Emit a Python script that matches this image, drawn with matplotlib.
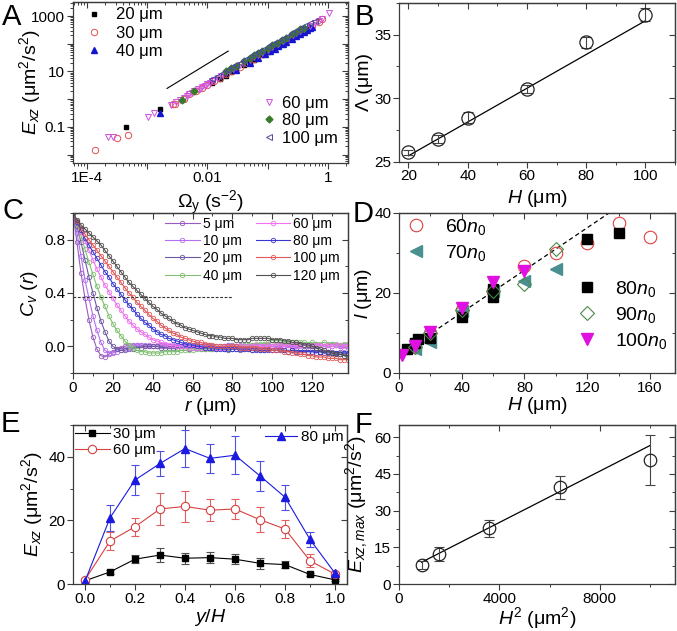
import numpy as np
import matplotlib
matplotlib.use('Agg')
import matplotlib.pyplot as plt
from matplotlib.ticker import MultipleLocator, LogLocator, FuncFormatter, NullFormatter

plt.rcParams['font.family'] = ['Liberation Sans', 'DejaVu Sans']
plt.rcParams['mathtext.fontset'] = 'custom'
plt.rcParams['mathtext.rm'] = 'Liberation Sans'
plt.rcParams['mathtext.it'] = 'Liberation Sans:italic'
plt.rcParams['mathtext.bf'] = 'Liberation Sans:bold'
plt.rcParams['axes.linewidth'] = 0.9
plt.rcParams['axes.edgecolor'] = '#3c3c3c'

# ---------------- panel A : E_xz vs Omega_y (log-log)
a20_x = [4.5e-4, 1.6e-3, 0.012, 0.016, 0.02, 0.025, 0.03, 0.04, 0.05, 0.06, 0.08, 0.1, 0.12, 0.16, 0.2, 0.25, 0.3, 0.4, 0.5]
a20_y = [0.1, 0.44, 3.7, 5.3, 7.0, 9.2, 11.5, 16.5, 21.7, 27, 39, 51, 64, 92, 121, 160, 200, 286, 400]
a30_x = [1.36e-4, 3.2e-4, 4.8e-4, 0.0027, 0.0029, 0.004, 0.005, 0.0065, 0.008, 0.01, 0.013, 0.016, 0.02, 0.026,
         0.035, 0.045, 0.06, 0.08, 0.1, 0.13, 0.17, 0.22, 0.28, 0.35, 0.45, 0.55, 0.7, 0.79]
a30_y = [0.0146, 0.040, 0.050, 0.65, 0.70, 1.0, 1.5, 1.9, 2.5, 3.3, 4.5, 5.6, 7.8, 10.5,
         15, 20, 29, 42, 55, 77, 108, 150, 205, 260, 350, 430, 600, 780]
a40_x = [0.0016, 0.03, 0.05, 0.07, 0.09, 0.11, 0.13, 0.15, 0.18, 0.2, 0.25, 0.3, 0.35, 0.4, 0.45, 0.5, 0.55]
a40_y = [0.32, 11, 20, 31, 42, 55, 65, 80, 100, 112, 150, 190, 228, 270, 310, 355, 400]
a60_x = [2.2e-4, 2.7e-4, 1.04e-3, 1.3e-3, 0.0025, 0.003, 0.0035, 0.004, 0.0045, 0.005, 0.0055, 0.006, 0.007,
         0.0075, 0.008, 0.009, 0.01, 0.011, 0.012, 0.013, 0.015, 0.017, 0.02, 0.023, 0.027, 0.03, 0.035,
         0.04, 0.05, 0.06, 0.07, 0.08, 0.1, 0.12, 0.15, 0.18, 0.22, 0.26, 0.3, 0.35, 0.4, 0.5, 0.6, 0.7,
         0.8, 1.04]
a60_y = [0.045, 0.043, 0.226, 0.316, 0.62, 0.8, 0.95, 1.15, 1.3, 1.5, 1.7, 1.9, 2.3,
         2.4, 2.7, 3.0, 3.6, 4.0, 4.5, 4.8, 5.9, 6.8, 8.5, 10, 12.5, 14, 17,
         20, 26, 33, 39, 47, 61, 77, 100, 128, 165, 200, 240, 290, 340, 450, 560, 650,
         800, 1290]
a80_x = [0.0038, 0.006, 0.02, 0.025, 0.03, 0.04, 0.05, 0.06, 0.07, 0.08, 0.1, 0.12, 0.14, 0.17, 0.2, 0.25, 0.3, 0.35, 0.4]
a80_y = [0.93, 1.95, 10, 13, 16, 23, 30, 38, 47, 55, 72, 90, 110, 140, 165, 225, 275, 330, 380]
a100_x = [0.012, 0.015, 0.018, 0.022, 0.026, 0.03, 0.035, 0.04, 0.05, 0.06, 0.07, 0.08, 0.1, 0.12, 0.14,
          0.17, 0.2, 0.25, 0.3, 0.35, 0.4, 0.5, 0.6]
a100_y = [5.2, 7, 9, 11.5, 14, 17, 21, 25, 33, 41, 50, 58, 76, 95, 115,
          145, 180, 235, 290, 350, 420, 540, 680]
a_guide_x = [0.00213, 0.0221]
a_guide_y = [2.45, 54.5]

# ---------------- panel B : Lambda vs H
b_H = [20, 30, 40, 60, 80, 100]
b_lam = [25.71, 26.76, 28.47, 30.71, 34.39, 36.58]
b_err = [0.2, 0.3, 0.46, 0.3, 0.45, 0.53]
b_fit = (0.1331, 22.79)   # slope, intercept

# ---------------- panel C : C_v(r)
c_r = np.arange(0, 140, 2)
c_labels = ['5 μm', '10 μm', '20 μm', '40 μm', '60 μm', '80 μm', '100 μm', '120 μm']
c_colors = ['#9a5cc0', '#b46ef0', '#6c5aa0', '#80c070', '#f070f0', '#3838d0', '#e05858', '#505050']
c5 = [1.00, 0.78, 0.55, 0.36, 0.20, 0.07, -0.02, -0.07, -0.08, -0.06, -0.04, -0.02, -0.01, 0.00, 0.01, 0.01, 0.01, 0.01, 0.00, 0.00, 0.00,
      0.00, 0.01, 0.00, -0.01, 0.00, 0.01, 0.00, 0.00, -0.01, 0.00, 0.01, 0.00, 0.00, 0.01, 0.00, -0.01, 0.00, 0.00, 0.01, 0.01,
      0.00, 0.00, -0.01, 0.00, 0.01, 0.00, 0.00, 0.01, 0.01, 0.00, 0.00, 0.01, 0.00, -0.01, 0.00, 0.01, 0.02, 0.01, 0.00, 0.01,
      0.02, 0.01, 0.00, 0.01, 0.02, 0.01, 0.00, 0.01, 0.02]
c10 = [1.00, 0.85, 0.68, 0.50, 0.36, 0.23, 0.12, 0.03, -0.03, -0.05, -0.05, -0.04, -0.03, -0.02, -0.01, 0.00, 0.01, 0.01, 0.01, 0.01, 0.00,
       0.00, 0.00, 0.01, 0.00, -0.01, 0.00, 0.00, 0.01, 0.00, 0.00, -0.01, 0.00, 0.01, 0.00, 0.00, 0.00, -0.01, 0.00, 0.01, 0.00,
       0.00, 0.01, 0.00, -0.01, -0.01, 0.00, 0.00, 0.01, 0.00, 0.00, -0.01, 0.00, 0.00, 0.01, 0.00, -0.01, 0.00, 0.01, 0.00, -0.01,
       0.00, 0.01, 0.00, -0.01, 0.00, 0.01, 0.00, -0.01, 0.00]
c20 = [1.00, 0.90, 0.78, 0.65, 0.52, 0.40, 0.29, 0.19, 0.11, 0.04, 0.00, -0.02, -0.03, -0.03, -0.02, -0.02, -0.01, -0.01, 0.00, 0.00, 0.00,
       0.00, -0.01, -0.01, 0.00, -0.01, -0.02, -0.01, -0.01, -0.02, -0.01, -0.01, -0.02, -0.02, -0.01, -0.02, -0.02, -0.01, -0.02, -0.03, -0.02,
       -0.02, -0.03, -0.02, -0.02, -0.03, -0.02, -0.03, -0.03, -0.02, -0.03, -0.03, -0.02, -0.03, -0.04, -0.03, -0.03, -0.04, -0.03, -0.04, -0.04,
       -0.03, -0.04, -0.05, -0.04, -0.04, -0.05, -0.04, -0.05, -0.05]
c40 = [1.00, 0.92, 0.83, 0.73, 0.63, 0.54, 0.45, 0.37, 0.30, 0.23, 0.17, 0.12, 0.08, 0.04, 0.01, -0.01, -0.03, -0.04, -0.04, -0.05, -0.05,
       -0.05, -0.05, -0.04, -0.04, -0.04, -0.04, -0.03, -0.03, -0.03, -0.03, -0.02, -0.02, -0.02, -0.02, -0.02, -0.01, -0.01, -0.01, -0.01, 0.00,
       0.00, 0.00, 0.01, 0.01, 0.01, 0.02, 0.02, 0.02, 0.03, 0.03, 0.03, 0.03, 0.03, 0.03, 0.03, 0.03, 0.03, 0.03, 0.02, 0.03,
       0.02, 0.02, 0.03, 0.02, 0.02, 0.02, 0.01, 0.02, 0.02]
c60 = [1.00, 0.93, 0.86, 0.79, 0.72, 0.65, 0.58, 0.52, 0.46, 0.41, 0.36, 0.31, 0.27, 0.23, 0.19, 0.16, 0.13, 0.11, 0.09, 0.07, 0.05,
       0.04, 0.03, 0.02, 0.01, 0.01, 0.00, 0.00, 0.00, -0.01, -0.01, -0.01, -0.01, -0.01, -0.01, -0.01, -0.01, -0.01, -0.01, 0.00, 0.00,
       0.00, 0.00, 0.00, 0.00, 0.00, 0.01, 0.00, 0.00, 0.01, 0.00, 0.01, 0.01, 0.00, 0.01, 0.01, 0.00, 0.01, 0.01, 0.01, 0.00,
       0.01, 0.01, 0.00, 0.01, 0.00, 0.01, 0.01, 0.00, 0.01]
c80 = [1.00, 0.93, 0.87, 0.81, 0.76, 0.71, 0.66, 0.61, 0.56, 0.52, 0.47, 0.43, 0.39, 0.35, 0.31, 0.28, 0.24, 0.21, 0.18, 0.16, 0.13,
       0.11, 0.09, 0.08, 0.06, 0.05, 0.04, 0.03, 0.02, 0.01, 0.01, 0.00, 0.00, -0.01, -0.01, -0.01, -0.02, -0.02, -0.02, -0.02, -0.02,
       -0.02, -0.02, -0.02, -0.02, -0.03, -0.03, -0.03, -0.03, -0.03, -0.03, -0.03, -0.03, -0.03, -0.04, -0.03, -0.04, -0.04, -0.04, -0.04, -0.04,
       -0.05, -0.04, -0.05, -0.05, -0.05, -0.05, -0.06, -0.05, -0.05]
c100 = [1.00, 0.94, 0.89, 0.84, 0.80, 0.76, 0.72, 0.68, 0.64, 0.60, 0.56, 0.52, 0.48, 0.44, 0.40, 0.37, 0.33, 0.30, 0.27, 0.24, 0.21,
        0.19, 0.16, 0.14, 0.12, 0.10, 0.09, 0.07, 0.06, 0.05, 0.04, 0.03, 0.03, 0.02, 0.01, 0.01, 0.00, 0.00, 0.00, 0.00, 0.00,
        0.00, -0.01, -0.01, -0.01, -0.01, -0.01, -0.02, -0.02, -0.02, -0.03, -0.03, -0.03, -0.04, -0.04, -0.05, -0.05, -0.06, -0.06, -0.07, -0.07,
        -0.08, -0.08, -0.08, -0.09, -0.09, -0.09, -0.10, -0.10, -0.10]
c120 = [1.00, 0.95, 0.91, 0.88, 0.85, 0.82, 0.79, 0.76, 0.72, 0.68, 0.64, 0.60, 0.56, 0.52, 0.48, 0.45, 0.42, 0.39, 0.36, 0.33, 0.30,
        0.28, 0.25, 0.23, 0.21, 0.19, 0.17, 0.16, 0.14, 0.13, 0.12, 0.11, 0.10, 0.09, 0.08, 0.08, 0.07, 0.07, 0.06, 0.06, 0.06,
        0.05, 0.05, 0.05, 0.05, 0.06, 0.06, 0.06, 0.06, 0.06, 0.05, 0.05, 0.05, 0.04, 0.04, 0.03, 0.03, 0.02, 0.01, 0.01, 0.00,
        -0.01, -0.02, -0.03, -0.04, -0.05, -0.06, -0.06, -0.07, -0.08]
c_curves = [c5, c10, c20, c40, c60, c80, c100, c120]
c_inv_e = 0.368
c_inv_e_span = [0, 80]

# ---------------- panel D : l vs H
d60_H = [10, 20, 40, 60, 80, 100, 120, 140, 160]
d60_l = [6.5, 10.1, 15.7, 20.4, 26.8, 30.0, 32.5, 37.5, 34.1]
d70_H = [10, 20, 40, 60, 80, 100]
d70_l = [6.0, 7.8, 15.5, 20.5, 22.9, 26.0]
d80_H = [5, 10, 12, 20, 40, 60, 60, 120, 140]
d80_l = [5.9, 7.5, 8.5, 8.7, 13.9, 19.1, 21.1, 33.6, 35.0]
d90_H = [10, 20, 40, 60, 80, 100]
d90_l = [6.5, 10.0, 15.8, 20.5, 22.2, 31.0]
d100_H = [2, 10, 20, 40, 60, 80]
d100_l = [4.4, 6.8, 10.3, 16.3, 22.7, 25.5]
d_fit = (0.265, 4.5)
d_fit_span = [1.5, 134]

# ---------------- panel E : E_xz vs y/H
e_y = [0.0, 0.1, 0.2, 0.3, 0.4, 0.5, 0.6, 0.7, 0.8, 0.9, 1.0]
e30 = [1.0, 3.8, 7.8, 9.1, 8.1, 8.3, 7.8, 6.5, 6.1, 3.0, 1.3]
e30_err = [0.3, 0.5, 1.2, 2.3, 1.8, 1.7, 1.5, 1.7, 1.0, 0.5, 0.3]
e60 = [1.3, 13.5, 18.0, 23.6, 24.4, 23.2, 23.6, 20.2, 17.3, 7.3, 3.1]
e60_err = [0.5, 2.8, 2.8, 4.9, 5.0, 3.5, 3.2, 4.0, 2.8, 2.0, 0.7]
e80 = [0.9, 20.8, 32.7, 37.9, 42.6, 39.5, 40.5, 34.0, 27.3, 14.0, 3.4]
e80_err = [0.4, 4.0, 4.8, 4.0, 5.7, 4.5, 6.0, 4.6, 3.9, 2.5, 0.5]

# ---------------- panel F : E_xz,max vs H^2
f_H2 = [900, 1600, 3600, 6400, 10000]
f_E = [7.9, 12.3, 22.8, 39.5, 50.7]
f_err = [1.7, 3.0, 3.5, 4.6, 10.4]
f_fit = (0.005242, 4.18)
f_fit_span = [900, 10000]

EC = '#3c3c3c'


def rect(l, t, r, b):
    return [l / 677, 1 - b / 631, (r - l) / 677, (b - t) / 631]


def frame(ax, xmaj, xmin, ymaj, ymin):
    # out ticks bottom/left, in ticks top/right
    ax.xaxis.set_major_locator(xmaj())
    ax.xaxis.set_minor_locator(xmin())
    ax.yaxis.set_major_locator(ymaj())
    ax.yaxis.set_minor_locator(ymin())
    ax.tick_params(which='both', direction='out', labelsize=11, color=EC, pad=1.5)
    ax.tick_params(which='major', length=4, width=0.8)
    ax.tick_params(which='minor', length=2.5, width=0.7)
    top = ax.secondary_xaxis('top')
    right = ax.secondary_yaxis('right')
    for sec, axis, mj, mn in ((top, top.xaxis, xmaj, xmin), (right, right.yaxis, ymaj, ymin)):
        axis.set_major_locator(mj())
        axis.set_minor_locator(mn())
        axis.set_major_formatter(NullFormatter())
        axis.set_minor_formatter(NullFormatter())
        sec.tick_params(which='both', direction='in', color=EC)
        sec.tick_params(which='major', length=4, width=0.8)
        sec.tick_params(which='minor', length=2.5, width=0.7)


fig = plt.figure(figsize=(6.77, 6.31), dpi=100)
axA = fig.add_axes(rect(73, 2, 348, 163))
axB = fig.add_axes(rect(399, 3, 675, 161.5))
axC = fig.add_axes(rect(73, 213, 348, 373))
axD = fig.add_axes(rect(399, 213, 675, 373))
axE = fig.add_axes(rect(73, 425, 347, 584))
axF = fig.add_axes(rect(399, 425, 675, 584))

# ---- A
ax = axA
ax.set_xscale('log')
ax.set_yscale('log')
ax.set_xlim(10 ** -4.233, 10 ** 0.333)
ax.set_ylim(10 ** -2.30, 10 ** 3.505)
ax.plot(a_guide_x, a_guide_y, color='k', lw=0.8)
hA = []
hA.append(ax.plot(a20_x, a20_y, 's', color='k', ms=3.4, ls='none', label='20 μm')[0])
hA.append(ax.plot(a30_x, a30_y, 'o', mfc='none', mec='#e05050', mew=0.7, ms=4.6, ls='none', label='30 μm')[0])
hA.append(ax.plot(a40_x, a40_y, '^', color='#1515d0', ms=4.3, ls='none', label='40 μm')[0])
hA.append(ax.plot(a60_x, a60_y, 'v', mfc='none', mec='#d050e0', mew=0.7, ms=4.8, ls='none', label='60 μm')[0])
hA.append(ax.plot(a80_x, a80_y, 'D', color='#3a7a2a', ms=3.5, ls='none', label='80 μm')[0])
hA.append(ax.plot(a100_x, a100_y, '<', mfc='none', mec='#4a4aa0', mew=0.7, ms=4.8, ls='none', label='100 μm')[0])
frame(ax, lambda: LogLocator(base=10, numticks=30),
      lambda: LogLocator(base=10, subs=np.arange(2, 10), numticks=30),
      lambda: LogLocator(base=10, numticks=30),
      lambda: LogLocator(base=10, subs=np.arange(2, 10), numticks=30))
ax.xaxis.set_major_formatter(FuncFormatter(
    lambda v, p: {-4: '1E-4', -2: '0.01', 0: '1'}.get(int(round(np.log10(v))), '')))
ax.yaxis.set_major_formatter(FuncFormatter(
    lambda v, p: {-1: '0.1', 1: '10', 3: '1000'}.get(int(round(np.log10(v))), '')))
ax.xaxis.set_minor_formatter(NullFormatter())
ax.yaxis.set_minor_formatter(NullFormatter())
l1 = ax.legend(handles=hA[:3], loc='upper left', bbox_to_anchor=(0.046, 0.966), frameon=False,
               fontsize=12, handlelength=1.0, handletextpad=0.85, labelspacing=0.2,
               borderpad=0, borderaxespad=0)
ax.add_artist(l1)
ax.legend(handles=hA[3:], loc='upper left', bbox_to_anchor=(0.683, 0.419), frameon=False,
          fontsize=12, handlelength=1.0, handletextpad=0.3, labelspacing=0.15,
          borderpad=0, borderaxespad=0)
ax.set_xlabel(r'$\Omega_\mathrm{y}$ (s$^{-2}$)', fontsize=14)
ax.set_ylabel(r'$E_{xz}$ (μm$^2$/s$^2$)', fontsize=14)
ax.xaxis.set_label_coords(0.5, -0.163)
ax.yaxis.set_label_coords(-0.11, 0.5)

# ---- B
ax = axB
ax.set_xlim(16.8, 110)
ax.set_ylim(25, 37.5)
xf = np.array([b_H[0], b_H[-1]])
ax.plot(xf, b_fit[0] * xf + b_fit[1], color='k', lw=0.9)
ax.errorbar(b_H, b_lam, yerr=b_err, fmt='none', ecolor='#444444', elinewidth=0.8, capsize=3.5, capthick=0.8)
ax.plot(b_H, b_lam, 'o', mfc='none', mec='#222222', mew=0.9, ms=9.5, ls='none')
frame(ax, lambda: MultipleLocator(20), lambda: MultipleLocator(10),
      lambda: MultipleLocator(5), lambda: MultipleLocator(2.5))
ax.set_xlabel(r'$H$ (μm)', fontsize=14)
ax.set_ylabel('Λ (μm)', fontsize=14)
ax.xaxis.set_label_coords(0.5, -0.17)
ax.yaxis.set_label_coords(-0.094, 0.5)

# ---- C
ax = axC
ax.set_xlim(0, 138)
ax.set_ylim(-0.2, 1.0)
for vals, col, lab in zip(c_curves, c_colors, c_labels):
    ax.plot(c_r[:len(vals)], vals, '-', color=col, lw=0.8, marker='o', ms=3.2, mfc='none',
            mew=0.6, label=lab)
ax.plot(c_inv_e_span, [c_inv_e, c_inv_e], ls=(0, (2.5, 1.5)), color='#333333', lw=0.8)
frame(ax, lambda: MultipleLocator(20), lambda: MultipleLocator(10),
      lambda: MultipleLocator(0.4), lambda: MultipleLocator(0.2))
ax.yaxis.set_major_formatter(FuncFormatter(lambda v, p: '%.1f' % v))
ax.legend(loc='upper left', bbox_to_anchor=(0.335, 0.977), ncol=2, frameon=False, fontsize=10,
          handlelength=2.5, handletextpad=0.2, columnspacing=1.0, labelspacing=0.24,
          borderpad=0, borderaxespad=0, numpoints=1)
ax.set_xlabel(r'$r$ (μm)', fontsize=14)
ax.set_ylabel(r'$C_v$ ($r$)', fontsize=14)
ax.xaxis.set_label_coords(0.5, -0.145)
ax.yaxis.set_label_coords(-0.12, 0.5)

# ---- D
ax = axD
ax.set_xlim(0, 176)
ax.set_ylim(0, 40)
xf = np.array(d_fit_span)
ax.plot(xf, d_fit[0] * xf + d_fit[1], ls=(0, (3.5, 2.5)), color='k', lw=0.9)
hD = []
hD.append(ax.plot(d60_H, d60_l, 'o', mfc='none', mec='#e04040', mew=0.8, ms=9, ls='none', label=r'60$n_\mathit{0}$')[0])
hD.append(ax.plot(d70_H, d70_l, '<', color='#4a9090', ms=9, ls='none', label=r'70$n_\mathit{0}$')[0])
hD.append(ax.plot(d80_H, d80_l, 's', color='k', ms=7.5, ls='none', label=r'80$n_\mathit{0}$')[0])
hD.append(ax.plot(d90_H, d90_l, 'D', mfc='none', mec='#4a8a4a', mew=0.8, ms=7, ls='none', label=r'90$n_\mathit{0}$')[0])
hD.append(ax.plot(d100_H, d100_l, 'v', color='#e010e0', ms=9, ls='none', label=r'100$n_\mathit{0}$')[0])
frame(ax, lambda: MultipleLocator(40), lambda: MultipleLocator(20),
      lambda: MultipleLocator(20), lambda: MultipleLocator(10))
l1 = ax.legend(handles=hD[:2], loc='upper left', bbox_to_anchor=(0.025, 0.977), frameon=False,
               fontsize=14, handlelength=1.0, handletextpad=1.0, labelspacing=0.3,
               borderpad=0, borderaxespad=0)
ax.add_artist(l1)
ax.legend(handles=hD[2:], loc='upper left', bbox_to_anchor=(0.646, 0.588), frameon=False,
          fontsize=14, handlelength=1.0, handletextpad=0.94, labelspacing=0.3,
          borderpad=0, borderaxespad=0)
ax.set_xlabel(r'$H$ (μm)', fontsize=14)
ax.set_ylabel(r'$l$ (μm)', fontsize=14)
ax.xaxis.set_label_coords(0.5, -0.14)
ax.yaxis.set_label_coords(-0.092, 0.5)

# ---- E
ax = axE
ax.set_xlim(-0.048, 1.048)
ax.set_ylim(0, 50)
ax.errorbar(e_y, e30, yerr=e30_err, fmt='none', ecolor='#505050', elinewidth=0.8, capsize=3, capthick=0.8)
ax.errorbar(e_y, e60, yerr=e60_err, fmt='none', ecolor='#e06060', elinewidth=0.8, capsize=3, capthick=0.8)
ax.errorbar(e_y, e80, yerr=e80_err, fmt='none', ecolor='#5050e0', elinewidth=0.8, capsize=3, capthick=0.8)
hE = []
hE.append(ax.plot(e_y, e30, '-s', color='k', lw=0.8, ms=4.5, label='30 μm')[0])
hE.append(ax.plot(e_y, e60, '-o', color='#d84040', mfc='white', mew=0.8, lw=0.8, ms=6, label='60 μm')[0])
hE.append(ax.plot(e_y, e80, '-^', color='#1a1ae0', lw=0.8, ms=6, label='80 μm')[0])
frame(ax, lambda: MultipleLocator(0.2), lambda: MultipleLocator(0.1),
      lambda: MultipleLocator(20), lambda: MultipleLocator(10))
ax.xaxis.set_major_formatter(FuncFormatter(lambda v, p: '%.1f' % v))
l1 = ax.legend(handles=hE[:2], loc='upper left', bbox_to_anchor=(0.007, 0.987), frameon=False,
               fontsize=11, handlelength=2.3, handletextpad=0.2, labelspacing=0.13,
               borderpad=0, borderaxespad=0, numpoints=1)
ax.add_artist(l1)
ax.legend(handles=hE[2:], loc='upper left', bbox_to_anchor=(0.70, 0.968), frameon=False,
          fontsize=11, handlelength=2.1, handletextpad=0.3,
          borderpad=0, borderaxespad=0, numpoints=1)
ax.set_xlabel(r'$y$/$H$', fontsize=14)
ax.set_ylabel(r'$E_{xz}$ (μm$^2$/s$^2$)', fontsize=14)
ax.xaxis.set_label_coords(0.5, -0.145)
ax.yaxis.set_label_coords(-0.102, 0.5)

# ---- F
ax = axF
ax.set_xlim(0, 11000)
ax.set_ylim(0, 65)
xf = np.array(f_fit_span)
ax.plot(xf, f_fit[0] * xf + f_fit[1], color='k', lw=0.9)
ax.errorbar(f_H2, f_E, yerr=f_err, fmt='none', ecolor='#444444', elinewidth=0.8, capsize=3.5, capthick=0.8)
ax.plot(f_H2, f_E, 'o', mfc='none', mec='#222222', mew=0.9, ms=9, ls='none')
frame(ax, lambda: MultipleLocator(4000), lambda: MultipleLocator(2000),
      lambda: MultipleLocator(15), lambda: MultipleLocator(7.5))
ax.set_xlabel(r'$H^2$ (μm$^2$)', fontsize=14)
ax.set_ylabel(r'$E_{xz,max}$ (μm$^2$/s$^2$)', fontsize=14)
ax.xaxis.set_label_coords(0.5, -0.13)
ax.yaxis.set_label_coords(-0.106, 0.5)

# panel letters
for letter, px, py in (('A', 2, 25), ('B', 355, 25), ('C', 2, 219),
                       ('D', 353, 222), ('E', 1, 432), ('F', 355, 433)):
    fig.text(px / 677, 1 - py / 631, letter, fontsize=21, va='baseline', ha='left')

fig.savefig('out.png', dpi=100)
